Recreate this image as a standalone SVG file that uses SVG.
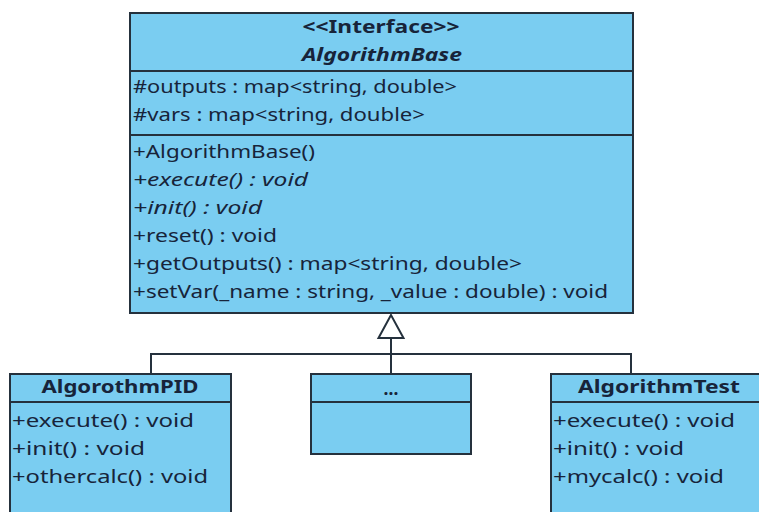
<svg xmlns="http://www.w3.org/2000/svg" width="759" height="512" viewBox="0 0 759 512">
<style>
.box{fill:#7acdf1;stroke:#25313d;stroke-width:2}
.div{stroke:#25313d;stroke-width:2}
.t{font-family:"Noto Sans","DejaVu Sans","Liberation Sans",sans-serif;font-size:17.5px;fill:#17243a}
.b{font-weight:bold}
.i{font-style:italic}
.c{text-anchor:middle}
.con{fill:none;stroke:#25313d;stroke-width:2}
</style>
<rect width="759" height="512" fill="#ffffff"/>
<g id="connectors">
<polyline class="con" points="151,374 151,354 631,354 631,374"/>
<line class="con" x1="391" y1="338" x2="391" y2="374"/>
<polygon points="391,315 378.5,338 403.5,338" fill="#ffffff" stroke="#25313d" stroke-width="2"/>
</g>
<g id="AlgorithmBase">
<rect class="box" x="130" y="13" width="503" height="300"/>
<line class="div" x1="130" y1="71" x2="633" y2="71"/>
<line class="div" x1="130" y1="135" x2="633" y2="135"/>
<text class="t b c" x="381" y="33" textLength="157" lengthAdjust="spacingAndGlyphs">&lt;&lt;Interface&gt;&gt;</text>
<text class="t b i c" x="382" y="61" textLength="160" lengthAdjust="spacingAndGlyphs">AlgorithmBase</text>
<text class="t" x="133" y="93" textLength="324" lengthAdjust="spacingAndGlyphs">#outputs : map&lt;string, double&gt;</text>
<text class="t" x="133" y="121" textLength="292" lengthAdjust="spacingAndGlyphs">#vars : map&lt;string, double&gt;</text>
<text class="t" x="133" y="158" textLength="182" lengthAdjust="spacingAndGlyphs">+AlgorithmBase()</text>
<text class="t i" x="133" y="186" textLength="175" lengthAdjust="spacingAndGlyphs">+execute() : void</text>
<text class="t i" x="133" y="214" textLength="129" lengthAdjust="spacingAndGlyphs">+init() : void</text>
<text class="t" x="133" y="242" textLength="144" lengthAdjust="spacingAndGlyphs">+reset() : void</text>
<text class="t" x="133" y="270" textLength="389" lengthAdjust="spacingAndGlyphs">+getOutputs() : map&lt;string, double&gt;</text>
<text class="t" x="133" y="298" textLength="475" lengthAdjust="spacingAndGlyphs">+setVar(_name : string, _value : double) : void</text>
</g>
<g id="AlgorothmPID">
<rect class="box" x="10" y="374" width="221" height="150"/>
<line class="div" x1="10" y1="402" x2="231" y2="402"/>
<text class="t b c" x="120" y="393" textLength="157" lengthAdjust="spacingAndGlyphs">AlgorothmPID</text>
<text class="t" x="12" y="427" textLength="182" lengthAdjust="spacingAndGlyphs">+execute() : void</text>
<text class="t" x="12" y="455" textLength="133" lengthAdjust="spacingAndGlyphs">+init() : void</text>
<text class="t" x="12" y="483" textLength="196" lengthAdjust="spacingAndGlyphs">+othercalc() : void</text>
</g>
<g id="Ellipsis">
<rect class="box" x="311" y="374" width="160" height="80"/>
<line class="div" x1="311" y1="402" x2="471" y2="402"/>
<text class="t b c" x="391" y="395" font-size="12">...</text>
</g>
<g id="AlgorithmTest">
<rect class="box" x="551" y="374" width="230" height="150"/>
<line class="div" x1="551" y1="402" x2="781" y2="402"/>
<text class="t b c" x="659" y="393" textLength="162" lengthAdjust="spacingAndGlyphs">AlgorithmTest</text>
<text class="t" x="553" y="427" textLength="182" lengthAdjust="spacingAndGlyphs">+execute() : void</text>
<text class="t" x="553" y="455" textLength="131" lengthAdjust="spacingAndGlyphs">+init() : void</text>
<text class="t" x="553" y="483" textLength="171" lengthAdjust="spacingAndGlyphs">+mycalc() : void</text>
</g>
</svg>
